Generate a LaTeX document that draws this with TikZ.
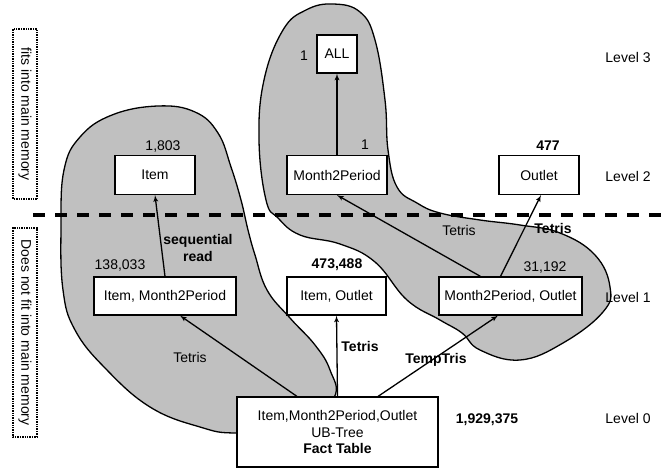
\documentclass[tikz,border=0pt]{standalone}
\usepackage{fontspec}
\setmainfont{Liberation Sans}
\newcommand*{\diagfont}{\fontsize{14}{16.5}\selectfont}
\definecolor{blobgrey}{RGB}{192,192,192}
\usetikzlibrary{arrows}
\tikzstyle{base}=[x=1pt, y=-1pt, inner sep=0pt, font=\diagfont]
\tikzstyle{box}=[draw, fill=white, line width=1.2pt, minimum height=39pt]
\tikzstyle{txt}=[inner sep=0pt]
\tikzstyle{btxt}=[inner sep=0pt, font=\diagfont\bfseries]
\tikzstyle{memlabel}=[draw, densely dotted, line width=1.4pt, rotate=-90, minimum height=24pt]
\tikzstyle{link}=[-latex', line width=1.3pt]
\tikzstyle{blob}=[draw, fill=blobgrey, line width=1.3pt]
\tikzstyle{divider}=[line width=4pt, dash pattern=on 12pt off 10pt]

\begin{document}
\begin{tikzpicture}[base]
    \path [use as bounding box] (0,0) rectangle (666,468);
    % grey regions
    \draw [blob] plot [smooth cycle, tension=0.7] coordinates {
        (158,106) (195,112) (218,133) (231,167) (241,200) (248,230) (255,255)
        (267,290) (290,318) (315,345) (330,370) (334,398) (300,428) (237,433)
        (200,427) (150,407) (105,368) (75,330) (63,290) (61,227) (64,170)
        (80,137) (112,115)};
    \draw [blob] plot [smooth cycle, tension=0.7] coordinates {
        (333,4) (360,12) (375,40) (385,100) (388,150) (397,187) (417,203)
        (440,213) (480,220) (520,225) (560,233) (595,255) (610,287) (603,312)
        (563,343) (520,360) (480,350) (462,333) (440,320) (407,300) (375,262)
        (340,244) (300,235) (278,218) (266,200) (259,140) (264,80) (283,30)
        (306,10)};
    % memory border
    \coordinate (divL) at (33,215);
    \coordinate (divR) at (666,215);
    \draw [divider] (divL) -- (divR);
    \node [memlabel, minimum width=170pt] (fits) at (25,114) {fits into main memory};
    \node [memlabel, minimum width=209pt] (nofit) at (25,332.5) {Does not fit into main memory};
    % cuboids
    \node [box, minimum width=40pt, minimum height=38pt] (all) at (337,54) {ALL};
    \node [box, minimum width=80pt] (item) at (155,175) {Item};
    \node [box, minimum width=100pt] (month) at (337,175) {Month2Period};
    \node [box, minimum width=80pt] (outlet) at (539,175) {Outlet};
    \node [box, minimum width=142pt, minimum height=38pt] (itemmonth) at (165,296) {Item, Month2Period};
    \node [box, minimum width=99pt, minimum height=38pt] (itemoutlet) at (336.5,296) {Item, Outlet};
    \node [box, minimum width=143pt, minimum height=38pt] (monthoutlet) at (510.5,296) {Month2Period, Outlet};
    \node [box, minimum width=201pt, minimum height=70pt, align=center] (fact) at (337.5,432)
        {Item,Month2Period,Outlet\\UB-Tree\\\textbf{Fact Table}};
    % sizes
    \node [txt] (nall) at (304,56) {1};
    \node [txt] (nitem) at (163,147) {1,803};
    \node [txt] (nmonth) at (365,145) {1};
    \node [btxt] (noutlet) at (548,146) {477};
    \node [txt] (nitemmonth) at (120,266) {138,033};
    \node [btxt] (nitemoutlet) at (337,265) {473,488};
    \node [txt] (nmonthoutlet) at (545,268) {31,192};
    \node [btxt] (nfact) at (487,420) {1,929,375};
    % levels
    \node [txt] (lev3) at (628,57) {Level 3};
    \node [txt] (lev2) at (628,176) {Level 2};
    \node [txt] (lev1) at (628,297) {Level 1};
    \node [txt] (lev0) at (628,418) {Level 0};
    % computations
    \draw [link] ([xshift=-40.5pt]fact.north) -- ([xshift=15pt]itemmonth.south);
    \draw [link] (fact.north) -- (itemoutlet.south);
    \draw [link] ([xshift=40.5pt]fact.north) -- ([xshift=-12.5pt]monthoutlet.south);
    \draw [link] (itemmonth.north) -- (item.south);
    \draw [link] ([xshift=-30pt]monthoutlet.north) -- (month.south);
    \draw [link] ([xshift=-10pt]monthoutlet.north) -- ([xshift=2pt]outlet.south);
    \draw [link] (month.north) -- (all.south);
    \node [txt] (t1) at (190,357) {Tetris};
    \node [btxt] (t2) at (360,346) {Tetris};
    \node [btxt] (t3) at (436,360) {TempTris};
    \node [btxt, align=center] (t4) at (198,248) {sequential\\read};
    \node [txt] (t5) at (459,230) {Tetris};
    \node [btxt] (t6) at (553,228) {Tetris};
\end{tikzpicture}
\end{document}
